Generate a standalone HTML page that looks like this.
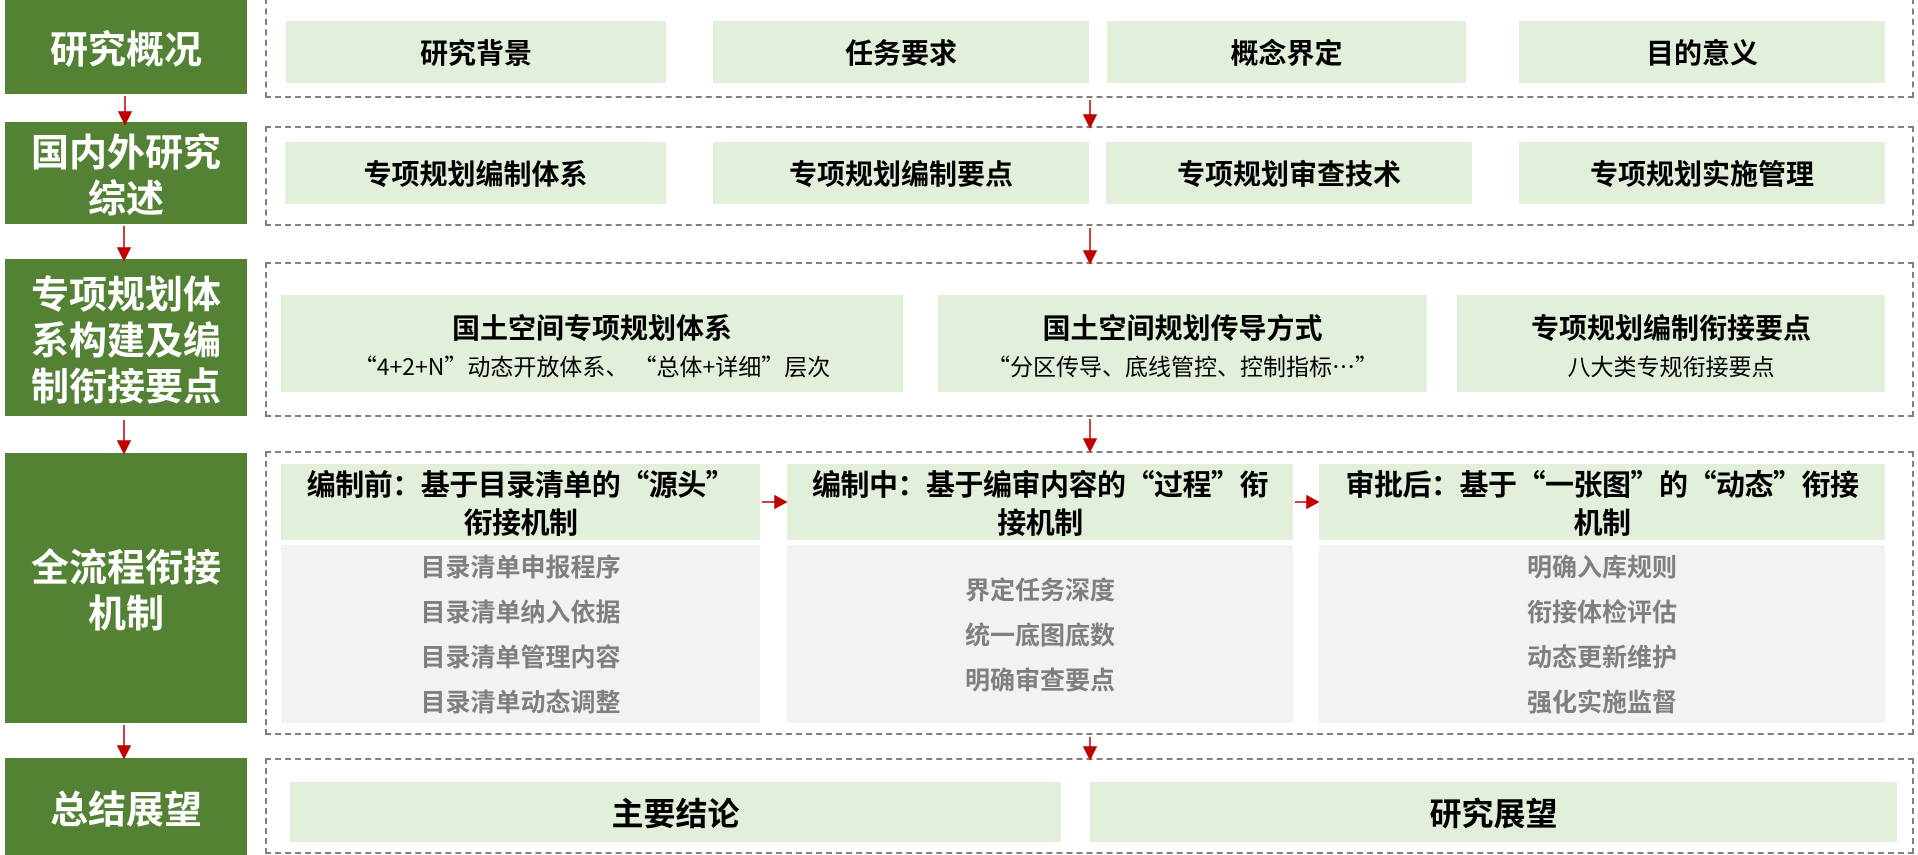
<!DOCTYPE html>
<html><head><meta charset="utf-8"><style>
*{margin:0;padding:0;box-sizing:border-box}
body{width:1918px;height:855px;background:#fff;position:relative;overflow:hidden;font-family:"Noto Sans CJK SC","Liberation Sans",sans-serif}
.g{position:absolute;left:5px;width:242px;background:#548235;color:#fff;font-weight:bold;font-size:38px;line-height:46px;display:flex;align-items:center;justify-content:center;text-align:center}
.d{position:absolute;left:265px;width:1649px;border:2px dashed #808080}
.b{position:absolute;background:#e2efda;font-weight:bold;color:#000;display:flex;align-items:center;justify-content:center;text-align:center;flex-direction:column}
.r1{font-size:28px}
.s{font-size:23px;font-weight:normal;margin-top:4px;line-height:30px}
.t{font-size:28px;font-weight:bold;line-height:38px}
.h{font-size:29px;line-height:38px;white-space:nowrap;letter-spacing:-0.5px}
.bd{position:absolute;background:#f2f2f2;color:#7f7f7f;font-weight:bold;font-size:25px;display:flex;flex-direction:column;align-items:center;justify-content:center;line-height:45px}
</style></head><body>
<div class="g" style="top:0;height:94px">研究概况</div>
<div class="g" style="top:122px;height:102px">国内外研究<br>综述</div>
<div class="g" style="top:259px;height:157px">专项规划体<br>系构建及编<br>制衔接要点</div>
<div class="g" style="top:453px;height:270px">全流程衔接<br>机制</div>
<div class="g" style="top:758px;height:97px">总结展望</div>

<div class="d" style="top:-2px;height:100px"></div>
<div class="d" style="top:126px;height:100px"></div>
<div class="d" style="top:262px;height:155px"></div>
<div class="d" style="top:451px;height:284px"></div>
<div class="d" style="top:758px;height:96px"></div>

<div class="b r1" style="left:286px;top:21px;width:380px;height:62px">研究背景</div>
<div class="b r1" style="left:713px;top:21px;width:376px;height:62px">任务要求</div>
<div class="b r1" style="left:1107px;top:21px;width:359px;height:62px">概念界定</div>
<div class="b r1" style="left:1519px;top:21px;width:366px;height:62px">目的意义</div>

<div class="b r1" style="left:285px;top:142px;width:381px;height:62px">专项规划编制体系</div>
<div class="b r1" style="left:713px;top:142px;width:376px;height:62px">专项规划编制要点</div>
<div class="b r1" style="left:1106px;top:142px;width:366px;height:62px">专项规划审查技术</div>
<div class="b r1" style="left:1519px;top:142px;width:366px;height:62px">专项规划实施管理</div>

<div class="b" style="left:281px;top:295px;width:622px;height:97px"><div class="t">国土空间专项规划体系</div><div class="s">“4+2+N”动态开放体系、 “总体+详细”层次</div></div>
<div class="b" style="left:938px;top:295px;width:489px;height:97px"><div class="t">国土空间规划传导方式</div><div class="s">“分区传导、底线管控、控制指标…”</div></div>
<div class="b" style="left:1457px;top:295px;width:428px;height:97px"><div class="t">专项规划编制衔接要点</div><div class="s">八大类专规衔接要点</div></div>

<div class="b h" style="left:281px;top:464px;width:479px;height:76px">编制前：基于目录清单的“源头”<br>衔接机制</div>
<div class="b h" style="left:787px;top:464px;width:506px;height:76px">编制中：基于编审内容的“过程”衔<br>接机制</div>
<div class="b h" style="left:1319px;top:464px;width:566px;height:76px">审批后：基于“一张图”的“动态”衔接<br>机制</div>

<div class="bd" style="left:281px;top:545px;width:479px;height:178px">目录清单申报程序<br>目录清单纳入依据<br>目录清单管理内容<br>目录清单动态调整</div>
<div class="bd" style="left:787px;top:545px;width:506px;height:178px">界定任务深度<br>统一底图底数<br>明确审查要点</div>
<div class="bd" style="left:1319px;top:545px;width:566px;height:178px">明确入库规则<br>衔接体检评估<br>动态更新维护<br>强化实施监督</div>

<div class="b" style="left:290px;top:782px;width:771px;height:60px;font-size:32px">主要结论</div>
<div class="b" style="left:1090px;top:782px;width:807px;height:60px;font-size:32px">研究展望</div>

<svg width="1918" height="855" style="position:absolute;left:0;top:0" xmlns="http://www.w3.org/2000/svg">
<g stroke="#c00000" stroke-width="1.5" fill="#c00000">
<line x1="125" y1="96" x2="125" y2="114"/><polygon points="119,112 131,112 125,124"/>
<line x1="124" y1="226" x2="124" y2="248"/><polygon points="118,248 130,248 124,260"/>
<line x1="124" y1="420" x2="124" y2="442"/><polygon points="118,441 130,441 124,453"/>
<line x1="124" y1="725" x2="124" y2="746"/><polygon points="118,746 130,746 124,758"/>
<line x1="1090" y1="100" x2="1090" y2="116"/><polygon points="1084,115 1096,115 1090,127"/>
<line x1="1090" y1="228" x2="1090" y2="252"/><polygon points="1084,251 1096,251 1090,263"/>
<line x1="1090" y1="419" x2="1090" y2="440"/><polygon points="1084,439 1096,439 1090,451"/>
<line x1="1090" y1="737" x2="1090" y2="748"/><polygon points="1084,747 1096,747 1090,759"/>
<line x1="762" y1="502" x2="776" y2="502"/><polygon points="775,496 775,508 786,502"/>
<line x1="1295" y1="502" x2="1308" y2="502"/><polygon points="1307,496 1307,508 1318,502"/>
</g></svg>
</body></html>
